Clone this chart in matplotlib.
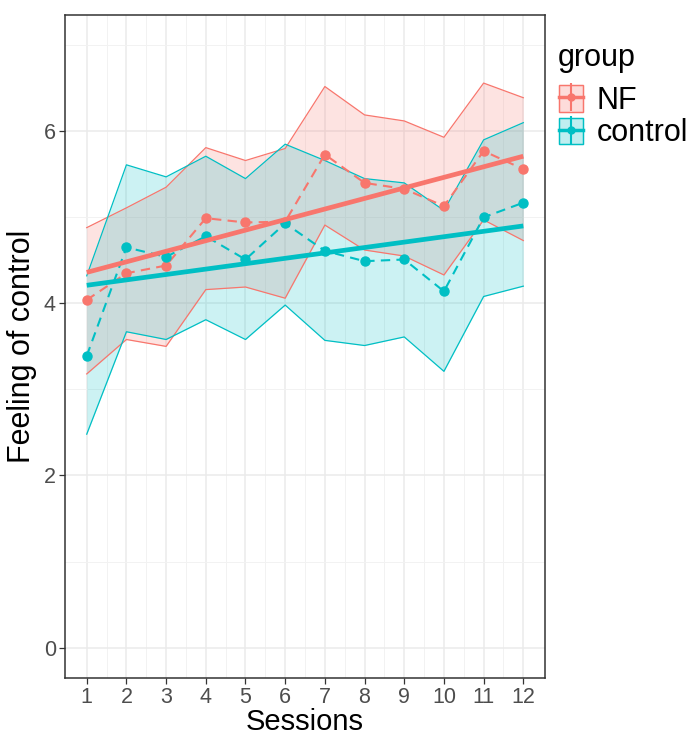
import numpy as np
import matplotlib
matplotlib.use("Agg")
import matplotlib.pyplot as plt
from matplotlib.lines import Line2D
from matplotlib.patches import Patch

plt.rcParams['font.family'] = ['Liberation Sans', 'DejaVu Sans']

sessions = np.arange(1, 13)
groups = ["NF", "control"]
colores = {"NF": "#F8766D", "control": "#00BFC4"}

# medias por sesion
nf_media = [4.04, 4.35, 4.44, 4.99, 4.94, 4.95, 5.73, 5.40, 5.33, 5.13, 5.77, 5.56]
ctl_media = [3.39, 4.65, 4.54, 4.78, 4.51, 4.93, 4.61, 4.49, 4.51, 4.14, 5.00, 5.17]

# bandas (superior / inferior)
nf_sup = [4.88, 5.11, 5.35, 5.81, 5.66, 5.80, 6.52, 6.19, 6.12, 5.93, 6.56, 6.39]
nf_inf = [3.18, 3.58, 3.50, 4.16, 4.19, 4.06, 4.91, 4.62, 4.55, 4.33, 4.97, 4.73]
ctl_sup = [4.32, 5.61, 5.47, 5.71, 5.45, 5.85, 5.66, 5.45, 5.40, 5.08, 5.90, 6.10]
ctl_inf = [2.48, 3.67, 3.58, 3.81, 3.58, 3.98, 3.57, 3.51, 3.61, 3.21, 4.08, 4.20]

# recta ajustada (valores en sesion 1 y 12)
fit_x = [1, 12]
nf_fit = [4.36, 5.71]
ctl_fit = [4.21, 4.90]

datos = {
    "NF": (nf_media, nf_sup, nf_inf, nf_fit),
    "control": (ctl_media, ctl_sup, ctl_inf, ctl_fit),
}

fig = plt.figure(figsize=(6.98, 7.37), dpi=100)
ax = fig.add_axes([0.093, 0.0805, 0.688, 0.899])

ax.set_xlim(0.45, 12.55)
ax.set_ylim(-0.35, 7.35)
ax.set_xticks(sessions)
ax.set_xticks(sessions[:-1] + 0.5, minor=True)
ax.set_yticks([0, 2, 4, 6])
ax.set_yticks([1, 3, 5, 7], minor=True)
ax.grid(which='major', color='#EBEBEB', lw=1.1)
ax.grid(which='minor', color='#F2F2F2', lw=0.7)
ax.set_axisbelow(True)

for g in groups:
    media, sup, inf, fit = datos[g]
    c = colores[g]
    ax.fill_between(sessions, inf, sup, color=c, alpha=0.2, lw=0, zorder=2)
    ax.plot(sessions, sup, color=c, lw=0.9, zorder=3)
    ax.plot(sessions, inf, color=c, lw=0.9, zorder=3)

for g in groups:
    media, sup, inf, fit = datos[g]
    c = colores[g]
    ax.plot(sessions, media, color=c, lw=1.5, ls=(0, (4.5, 3)), marker='o',
            ms=6.5, zorder=4)
    ax.plot(fit_x, fit, color=c, lw=3.4, solid_capstyle='butt', zorder=5)

for s in ax.spines.values():
    s.set_color('#333333')
    s.set_linewidth(1.1)
ax.tick_params(which='major', length=4, width=0.9, color='#333333',
               labelsize=15.5, labelcolor='#4D4D4D', pad=2.5)
ax.tick_params(which='minor', length=0)

ax.set_xlabel("Sessions", fontsize=21, labelpad=0)
ax.set_ylabel("Feeling of control", fontsize=22, labelpad=5)

manijas = []
for g in groups:
    c = colores[g]
    caja = Patch(facecolor=c, alpha=0.25, edgecolor=c, lw=1.0)
    borde = Patch(facecolor='none', edgecolor=c, lw=1.0)
    hline = Line2D([], [], color=c, lw=2.5, marker='o', ms=5)
    vline = Line2D([], [], color=c, lw=0, marker='|', ms=20, mew=1.5)
    manijas.append((caja, borde, hline, vline))

# titulo de la leyenda aparte para controlar la separacion
fig.text(0.799, 0.921, "group", fontsize=22, va='center', ha='left')
leg = fig.legend(manijas, groups, loc='upper left', bbox_to_anchor=(0.801, 0.884),
                 frameon=False, fontsize=22,
                 handlelength=0.78, handleheight=0.95, handletextpad=0.45,
                 labelspacing=0.05, borderpad=0, borderaxespad=0)

fig.savefig("out.png", dpi=100)
